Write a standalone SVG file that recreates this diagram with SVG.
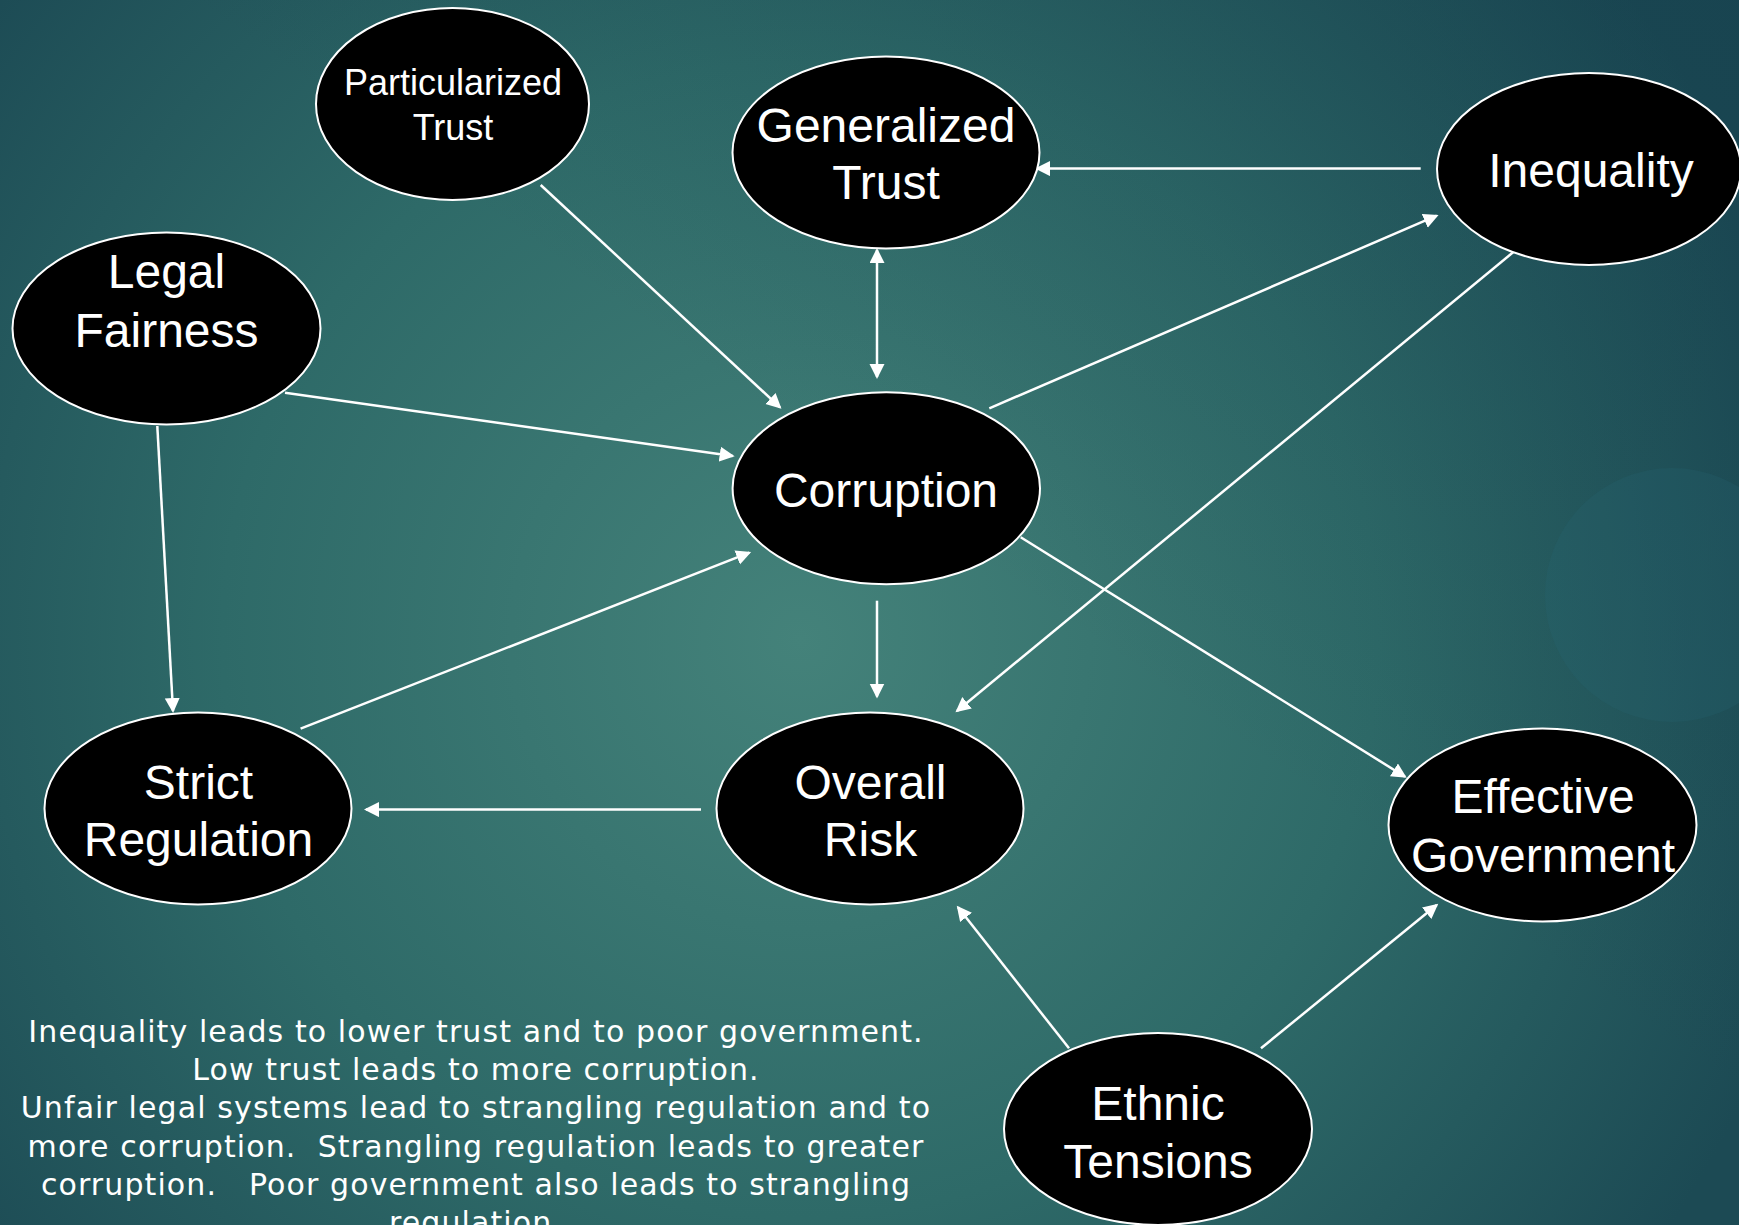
<svg xmlns="http://www.w3.org/2000/svg" width="1739" height="1225" viewBox="0 0 1739 1225">
<style>
.node ellipse{fill:#000;stroke:#fff;stroke-width:2}
.node text{font-family:"Liberation Sans",Arial,sans-serif;font-size:48px;fill:#fff;text-anchor:middle}
.conn path{stroke:#fff;stroke-width:2.5;fill:none;marker-end:url(#ah)}
.note{font-family:"DejaVu Sans",Verdana,sans-serif;font-size:30px;fill:#fff;text-anchor:middle;letter-spacing:1.1px;white-space:pre}
</style>
<defs>
<radialGradient id="bg" cx="800" cy="640" r="1050" gradientUnits="userSpaceOnUse">
<stop offset="0" stop-color="#44827a"/>
<stop offset="0.55" stop-color="#2e6a68"/>
<stop offset="1" stop-color="#1c4a54"/>
</radialGradient>
<linearGradient id="tr" x1="0" y1="1" x2="1" y2="0">
<stop offset="0.55" stop-color="#123a4a" stop-opacity="0"/>
<stop offset="1" stop-color="#123a4a" stop-opacity="0.35"/>
</linearGradient>
<marker id="ah" markerUnits="userSpaceOnUse" markerWidth="16" markerHeight="16" refX="13" refY="7.5" orient="auto-start-reverse" viewBox="0 0 16 16">
<path d="M0,0 L15,7.5 L0,15 z" fill="#fff"/>
</marker>
</defs>
<rect width="1739" height="1225" fill="url(#bg)"/>
<rect width="1739" height="1225" fill="url(#tr)"/>
<circle cx="1672" cy="595" r="127" fill="#2a6a78" fill-opacity="0.2"/>

<g class="conn">
<path d="M540.7,185 L780,407.3"/>
<path d="M285,392.7 L732.7,456"/>
<path d="M157.3,426 L173,711"/>
<path d="M300.6,728.6 L749.3,552.7"/>
<path d="M877,250 L877,377" style="marker-start:url(#ah)"/>
<path d="M1420.7,168.6 L1037,168.6"/>
<path d="M989.3,408.3 L1436.7,215.7"/>
<path d="M1516.7,249.3 L957,711"/>
<path d="M877,600.7 L877,696.5"/>
<path d="M1020.7,537.3 L1405,776.7"/>
<path d="M701,809.6 L366,809.6"/>
<path d="M1069,1048.3 L958,907.2"/>
<path d="M1261,1048.3 L1436.7,905"/>
</g>

<g id="particularized-trust" class="node">
<ellipse cx="452.5" cy="104" rx="136.5" ry="96"/>
<text x="453" y="95" style="font-size:36px">Particularized</text>
<text x="453" y="140" style="font-size:36px">Trust</text>
</g>
<g id="generalized-trust" class="node">
<ellipse cx="886" cy="152.5" rx="153.5" ry="96"/>
<text x="886" y="142">Generalized</text>
<text x="886" y="199">Trust</text>
</g>
<g id="inequality" class="node">
<ellipse cx="1589" cy="169" rx="152" ry="96"/>
<text x="1591" y="187">Inequality</text>
</g>
<g id="legal-fairness" class="node">
<ellipse cx="166.5" cy="328.5" rx="154" ry="96"/>
<text x="166.5" y="288">Legal</text>
<text x="166.5" y="347">Fairness</text>
</g>
<g id="corruption" class="node">
<ellipse cx="886.3" cy="488.3" rx="153.7" ry="96"/>
<text x="886" y="506.7">Corruption</text>
</g>
<g id="strict-regulation" class="node">
<ellipse cx="198" cy="808.5" rx="153.5" ry="96"/>
<text x="198.5" y="799">Strict</text>
<text x="198.5" y="856">Regulation</text>
</g>
<g id="overall-risk" class="node">
<ellipse cx="870" cy="808.5" rx="153.5" ry="96"/>
<text x="870.5" y="799">Overall</text>
<text x="870.5" y="856">Risk</text>
</g>
<g id="effective-government" class="node">
<ellipse cx="1542.5" cy="825" rx="154" ry="96.5"/>
<text x="1543" y="813.3">Effective</text>
<text x="1543" y="871.7">Government</text>
</g>
<g id="ethnic-tensions" class="node">
<ellipse cx="1158" cy="1129" rx="154" ry="96"/>
<text x="1158" y="1120">Ethnic</text>
<text x="1158" y="1178">Tensions</text>
</g>

<g id="note">
<text class="note" x="476" y="1041.7">Inequality leads to lower trust and to poor government.</text>
<text class="note" x="476" y="1080">Low trust leads to more corruption.</text>
<text class="note" x="476" y="1118.3">Unfair legal systems lead to strangling regulation and to</text>
<text class="note" x="476" y="1156.7">more corruption.  Strangling regulation leads to greater</text>
<text class="note" x="476" y="1195">corruption.   Poor government also leads to strangling</text>
<text class="note" x="476" y="1233.3">regulation.</text>
</g>
</svg>
